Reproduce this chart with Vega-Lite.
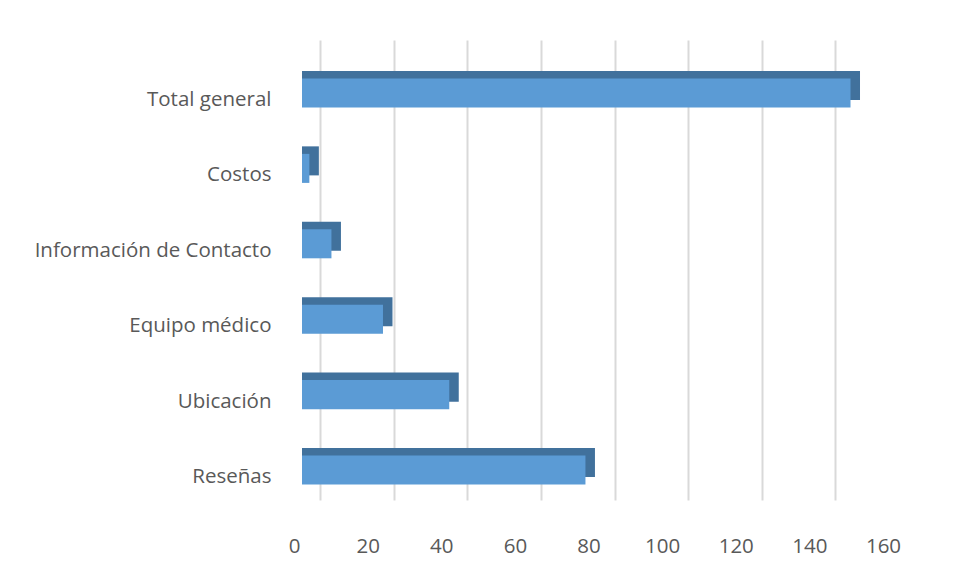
{
  "$schema": "https://vega.github.io/schema/vega-lite/v6.json",
  "width": 589,
  "height": 460,
  "padding": {"left": 0, "top": 40, "right": 5, "bottom": 5},
  "background": "white",
  "config": {"view": {"stroke": null}, "font": "Open Sans"},
  "data": {"values": [
    {"categoria": "Total general", "valor": 149},
    {"categoria": "Costos", "valor": 2},
    {"categoria": "Información de Contacto", "valor": 8},
    {"categoria": "Equipo médico", "valor": 22},
    {"categoria": "Ubicación", "valor": 40},
    {"categoria": "Reseñas", "valor": 77}
  ]},
  "encoding": {
    "y": {
      "field": "categoria", "type": "nominal",
      "sort": ["Total general", "Costos", "Información de Contacto", "Equipo médico", "Ubicación", "Reseñas"],
      "scale": {"paddingInner": 0.615, "paddingOuter": 0.3575, "align": 0.843},
      "axis": {"title": null, "ticks": false, "domain": false, "labelPadding": 31, "minExtent": 302, "maxExtent": 302, "labelFont": "Open Sans", "labelFontSize": 20.5, "labelColor": "#595959", "labelLimit": 400}
    },
    "x": {
      "field": "valor", "type": "quantitative", "stack": null,
      "scale": {"domain": [0, 160], "nice": false},
      "axis": {"title": null, "values": [0, 20, 40, 60, 80, 100, 120, 140, 160], "ticks": false, "domain": false, "grid": true, "gridColor": "#D9D9D9", "gridWidth": 2, "tickOffset": 18, "labelOffset": -26, "labelPadding": 36, "labelFont": "Open Sans", "labelFontSize": 20.5, "labelColor": "#595959", "labelFlush": false}
    }
  },
  "layer": [
    {"mark": {"type": "bar", "color": "#41719C", "xOffset": 9.5, "x2Offset": 0, "yOffset": -14.5},
     "encoding": {"x2": {"datum": 0}}},
    {"mark": {"type": "bar", "color": "#5B9BD5", "yOffset": -7}}
  ]
}
